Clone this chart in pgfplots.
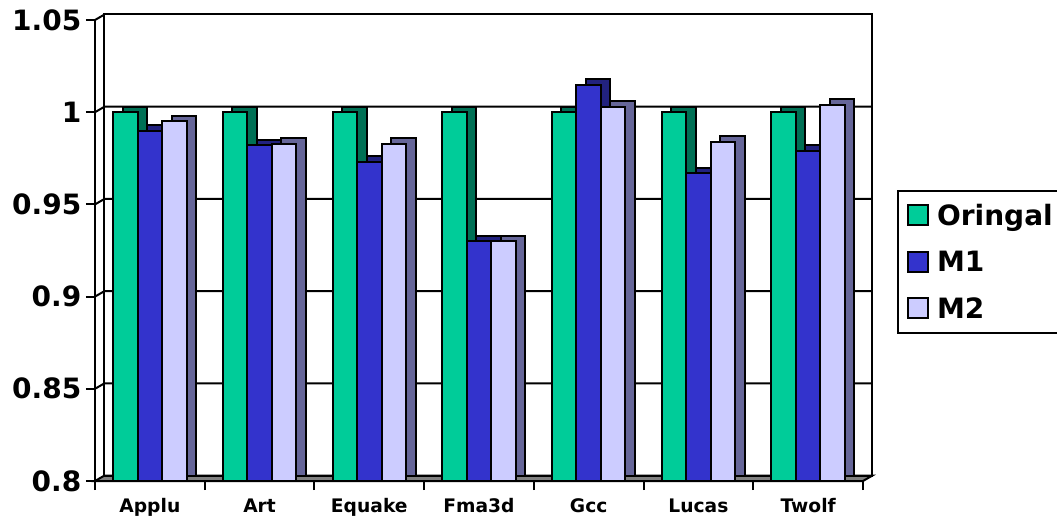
\documentclass[border=0pt]{standalone}
\usepackage{fontspec}
\setmainfont{DejaVu Sans}
\usepackage{pgfplots}
\pgfplotsset{compat=1.18}
\usepackage{pgfplotstable}

\definecolor{cOrig}{HTML}{00CC99}
\definecolor{cOrigSide}{HTML}{007055}
\definecolor{cMa}{HTML}{3333CC}
\definecolor{cMaSide}{HTML}{22227F}
\definecolor{cMb}{HTML}{CCCCFF}
\definecolor{cMbSide}{HTML}{666699}

% relative speed per benchmark
\pgfplotstableread{
x orig m1 m2
0 1 0.990 0.995
1 1 0.982 0.983
2 1 0.973 0.983
3 1 0.930 0.930
4 1 1.015 1.003
5 1 0.967 0.984
6 1 0.979 1.004
}\speed

\def\dx{7.125pt}
\def\dy{4.125pt}

\pgfplotsset{
  side/.style={ybar, bar width=18.375pt, draw=black, line width=1.5pt, yshift=\dy, forget plot},
  front/.style={ybar, bar width=18.375pt, draw=black, line width=1.5pt,
    legend image code/.code={\draw[##1, draw=black, line width=1.3pt] (0pt,-7pt) rectangle (15pt,8pt);}},
}

\begin{document}
\begin{tikzpicture}
\begin{axis}[
  scale only axis, width=576pt, height=345.75pt,
  xmin=-0.5, xmax=6.5, ymin=0.8, ymax=1.05,
  clip mode=individual,
  axis x line*=bottom, axis y line*=left,
  axis line style={line width=1.5pt},
  xtick={-0.5,0.5,1.5,2.5,3.5,4.5,5.5,6.5},
  x tick label as interval,
  xticklabels={Applu,Art,Equake,Fma3d,Gcc,Lucas,Twolf},
  ytick={0.8,0.85,0.9,0.95,1,1.05},
  yticklabels={0.8,0.85,0.9,0.95,1,1.05},
  tick align=outside, major tick length=6.75pt,
  tick style={black, line width=1.5pt},
  x tick label style={font=\fontsize{14}{16}\selectfont\bfseries, yshift=-3pt},
  y tick label style={font=\fontsize{21}{25}\selectfont\bfseries},
  legend style={at={(1.0443,0.6312)}, anchor=north west, draw=black, line width=1.5pt,
    font=\fontsize{21}{25}\selectfont\bfseries, row sep=13.75pt, inner xsep=7pt, inner ysep=8pt,
    /tikz/every odd column/.append style={column sep=4pt}},
  legend cell align=left,
]
% floor, back wall and its gridlines
\filldraw[fill=gray, line width=1.5pt] (axis cs:-0.5,0.8) -- (axis cs:6.5,0.8)
  -- ([xshift=\dx,yshift=\dy]axis cs:6.5,0.8) -- ([xshift=\dx,yshift=\dy]axis cs:-0.5,0.8) -- cycle;
\draw[line width=1.5pt] ([xshift=\dx,yshift=\dy]axis cs:-0.5,0.8) rectangle ([xshift=\dx,yshift=\dy]axis cs:6.5,1.05);
\draw[line width=1.5pt] (axis cs:-0.5,1.05) -- ([xshift=\dx,yshift=\dy]axis cs:-0.5,1.05);
\pgfplotsinvokeforeach{0.85,0.9,0.95,1}{
  \draw[line width=1.5pt] (axis cs:-0.5,#1) -- ([xshift=\dx,yshift=\dy]axis cs:-0.5,#1)
    -- ([xshift=\dx,yshift=\dy]axis cs:6.5,#1);
}
% depth faces
\addplot[side, fill=cOrigSide, bar shift=-11.25pt] table[x=x, y=orig] {\speed};
\addplot[side, fill=cMaSide, bar shift=7.125pt] table[x=x, y=m1] {\speed};
\addplot[side, fill=cMbSide, bar shift=25.5pt] table[x=x, y=m2] {\speed};
% front faces
\addplot[front, fill=cOrig, bar shift=-18.375pt] table[x=x, y=orig] {\speed};
\addplot[front, fill=cMa, bar shift=0pt] table[x=x, y=m1] {\speed};
\addplot[front, fill=cMb, bar shift=18.375pt] table[x=x, y=m2] {\speed};
\legend{Oringal, M1, M2}
\end{axis}
\pgfresetboundingbox
\useasboundingbox (current axis.south west) ++(-71.25pt,-30.75pt) rectangle ++(792.75pt,391.5pt);
\end{tikzpicture}
\end{document}
